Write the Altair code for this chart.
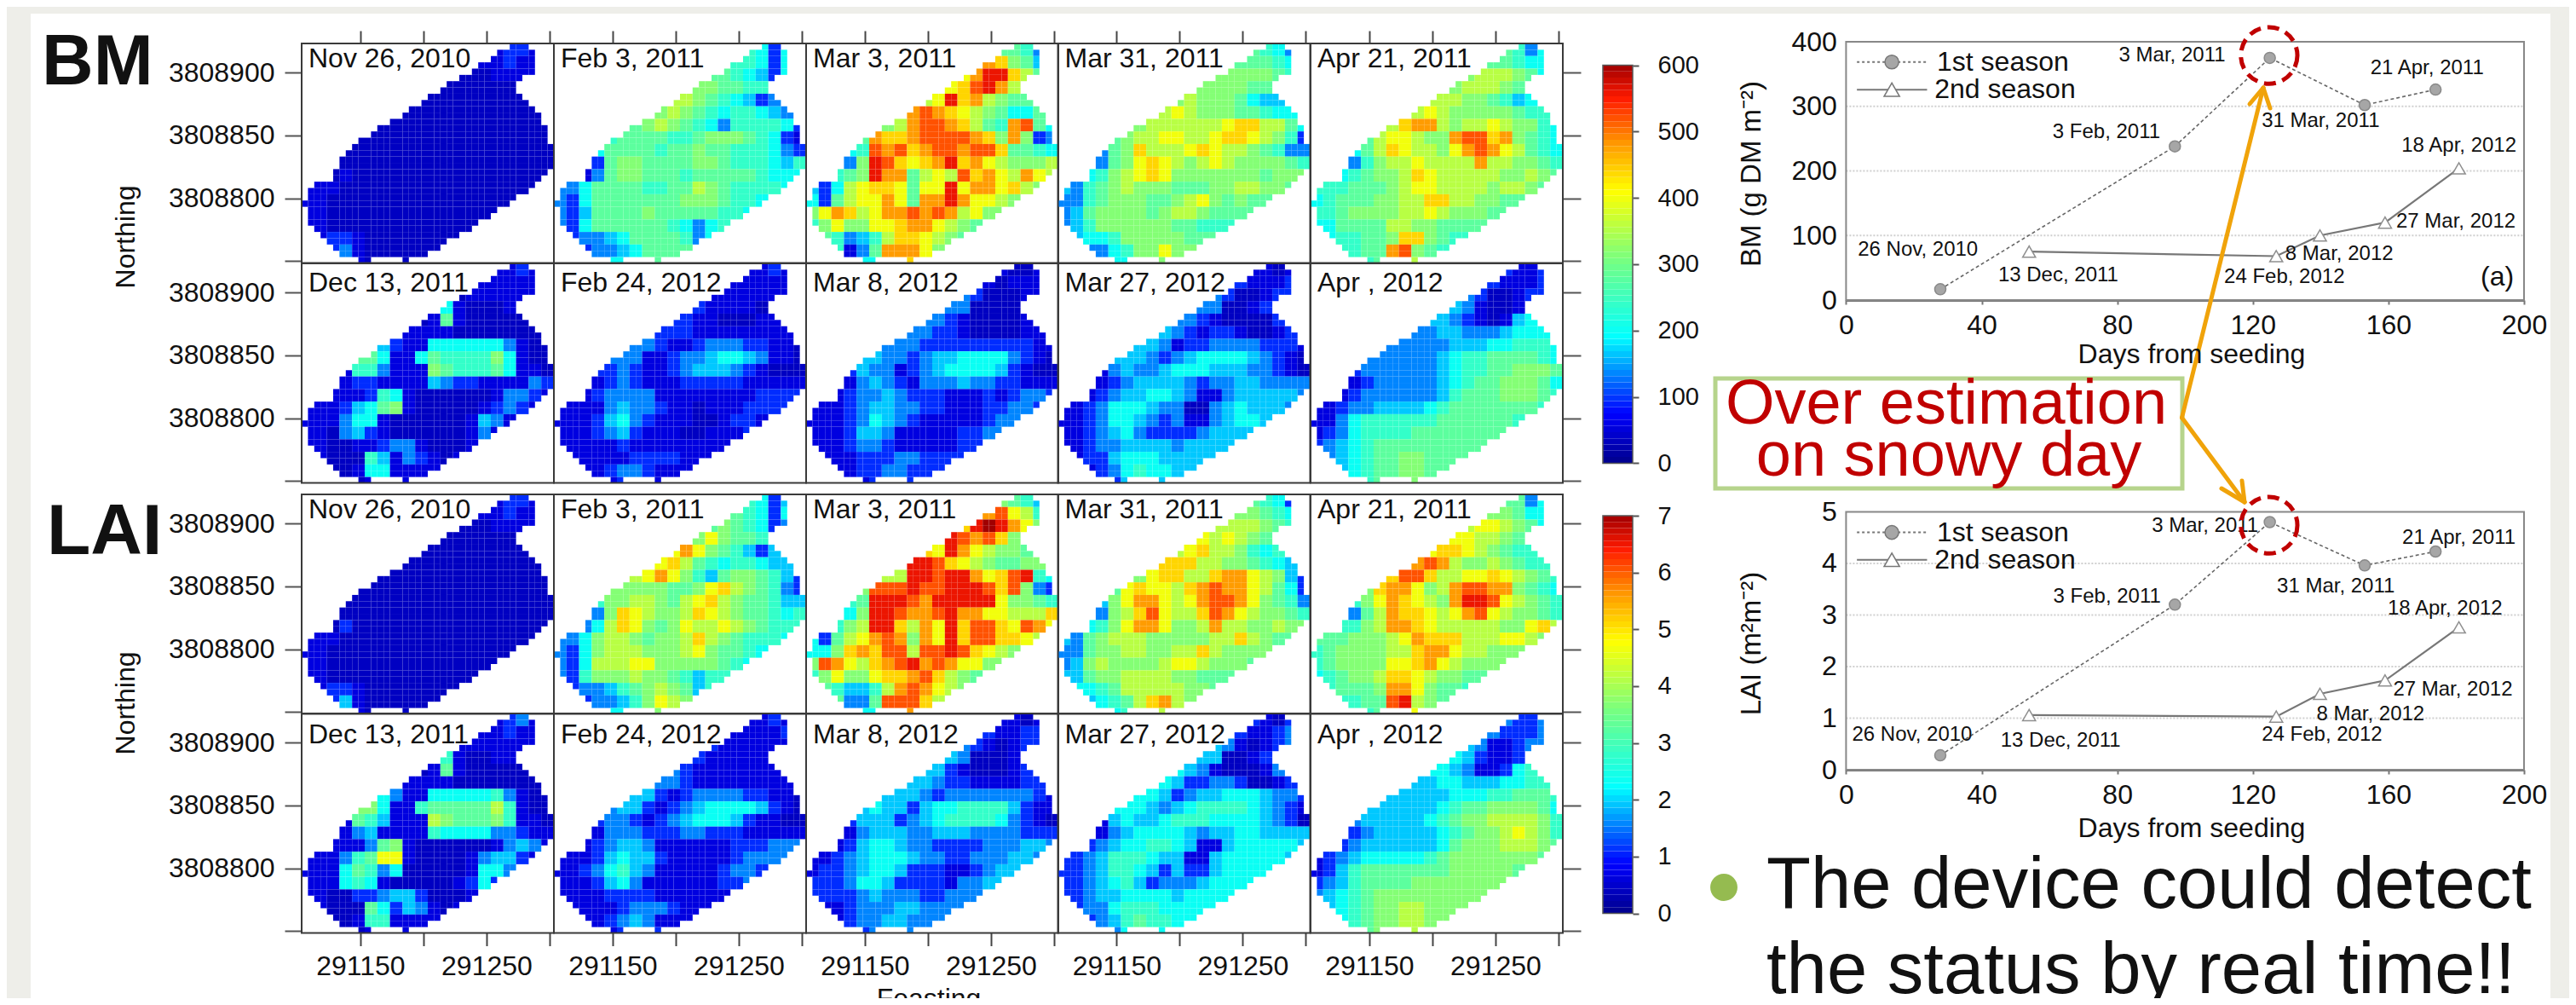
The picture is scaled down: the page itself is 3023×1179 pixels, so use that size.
import altair as alt
import pandas as pd

W, H = 3007, 1163
OFF = 8  # page margin

# ---------- map data: one hex code per 10 m block, colour ----------
COL_TITLES = [
    ["Nov 26, 2010", "Feb 3, 2011", "Mar 3, 2011", "Mar 31, 2011", "Apr 21, 2011"],
    ["Dec 13, 2011", "Feb 24, 2012", "Mar 8, 2012", "Mar 27, 2012", "Apr , 2012"],
]
# BM value (g DM m-2) that each code stands for
VALUE_BY_CODE = [35, 55, 95, 135, 165, 200, 240, 280, 315, 355, 400, 440, 480, 520, 560, 600]
# first/last 5 m column of every 5 m row of the field
FIELD_L = [33,31,30,28,27,25,23,22,20,19,17,16,14,12,11,9,8,7,6,6,5,5,2,1,1,0,1,1,1,2,3,4,5,6,9]
FIELD_R = [36,37,37,37,37,35,34,34,35,36,37,38,38,39,39,39,40,40,40,40,39,38,37,36,34,33,31,30,28,27,25,23,22,20,11]
BLOCK_START = [15,14,12,11,9,8,6,4,3,3,2,0,0,0,0,1,2,4]

A1 = ["1221","11211","0001111","0000000","000000000","00000000000","00000000000000","0000000000000000","00000000000000000","00000000000000000","010000000000000000","1110000000000000000","11000000000000000","1100000000000000","11000000000000","122100000000","231000000","10000"]
A2 = ["6525","66525","7765425","8877665","998765423","8987656 6543".replace(" ",""),"78987653666652","6777766788876521","57777677877666532","27887777887666546","137887776777776555","33577776677987666 65".replace(" ",""),"32577777778887665","3247777877777665","32577777765356","233457777635","233457777","55557"]
A3 = ["7763","CB874","ACEEB97","ABDEC97","9AEBC9877","CDCBA987557","89CDDCB976CD75","7CBBCDDDDCB8C823","56DCDBCDDCDDB7765","38EDBABCEBCA98889","678ECC79A9DBCA9CA9","4259ABBA7AAEACCAB98","5279AACA7CCECAA98","8ACB9ACCDCDC9A88","68A88AABCCA987","763469BBA987","6137CCCA8","5556B"]
A4 = ["7653","77765","8888876","8888776","898887544","9A988877655","8999999ABB99752","7899AA99ABBA9862","378B999ABA998763","378ABA989A9888876","56 89ABA888888878887".replace(" ",""),"4367898887778899887","33678887789A87877","3478888789987777","34688888877666","455688888777","33568 8A88".replace(" ",""),"55778"]
A5 = ["7635","77655","8999875","8999876","999887645","9A988888766","9BCC9899A98865","79AA988CDDBC8765","579BA998ACDCA9765","36899A9999C998876","56788 9BA99999889 87".replace(" ",""),"66677789AA99998 9987".replace(" ",""),"567778899BB998877","66788889 9A988877".replace(" ",""),"55777799887777","566778BB8766","6677CD876","67779"]
B1 = ["1121","11111","0111111","5100011","017100000","11110000000","42115555553100","7751157666685100","16631118766675110","12211114322111132","111265100000013321","1112457810000012321","11135510000001431","1103421000000131","11001123310001","100064132101","001551111","01111"]
B2 = ["1121","11111","1111111","2111100","221100011","22211111111","33211233322110","3331123345543110","22321123444321000","12321112222211111","123333111111112222","1111343321101112222","11124532111001221","1112342111001112","11111211111111","111112222111","112332111","12111"]
B3 = ["1001","10111","3200011","3300001","332100001","33221000011","33322222222211","4433234455553210","24331234555542100","13432133343322111","123343222111212332","1112344332211122332","11123543211111233","1112443111112233","11123321111122","111222332222","112233222","12222"]
B4 = ["1101","21112","3200122","3300122","332100002","43212210012","44312233332221","4443234555543210","13433455544433210","12344443233443333","123445543113444443","1123555433003454443","11235543231134554","1123453222234444","11233444434444","122455544444","123565544","24444"]
B5 = ["2112","21112","3200122","4310013","443210145","33443334555","33333444556665","3333334566777765","23333334566778887","12333334567788875","123333334677788876","1123344445677777776","11356666667777776","1235666677777777","23456777777777","345677887777","456778877","67778"]
C1 = ["1221","11211","0001111","0000000","000000000","00000000000","00000000000000","0000000000000000","00000000000000000","00000000000000000","020000000000000000","1110000000000000000","11000000000000000","1100000000000000","11000000000000","122100000000","241000000","10000"]
C2 = ["6524","76525","7876523","8A87765","ACA876424","AB976566544","9ACA8647887642","88888778AB987632","68899879AB9877644","38BA9889BA9877656","359BA878A99A987666","33589987889B9876665","32589998889A87765","325999AA88888765","32688898876466","233467898746","233468A98","55788"]
C3 = ["8764","CDA96","BEFECA8","EDCDB88","BAECA9887","EEDBA987788","99EEDEECABDE65","8DDDEDDEEEDBD832","67EEEDCEEEEEA8876","58EEDCCDECCAA999B","689EEB9CAEBDDBADCA","5279ACDC8CAEBDDBBA9","558BCBDD9DDEDBA98","8DCA9BCDECDCAA88","68A88ABBCDB987","764469CDCA98","7337DDDB9","5566C"]
C4 = ["7652","88765","9999876","A9A9876","9AB998656","BBB99887654","8ABB99BCCA9842","7ABAA9BCDCCA9752","48ACCA9ACDDCA8763","389BDA99BDCA98876","568ACCA889C99889887","43789998888899B9877","33788998899B98888","348988889AA98887","44788999988777","556799999887","45679BC98","56889"]
C5 = ["7735","88755","9AA9875","AA99876","ABBA98766","CDC98898766","BDDB99AABA9876","8BCCA89CDDCC8765","68ACBA98CEEDA9876","379CBBA9ACDA98876","6689CCBA9999988AB97","7778889ACBBB999AA98","67888899BCCA99888","678888AABCA98888","567889BBA98877","67778CCA8776","6677DE987","6788A"]
D1 = ["1231","11211","1111111","6100111","017100000","11110000000","53115555563100","8851167777796100","17641119877786110","13411116555533211","111378100000013431","111367AA10000134421","11157635000001553","1115651000001252","11002234420001","100075243101","001661111","01111"]
D2 = ["1121","11112","2111111","2111111","321111111","33211111111","44212333322110","3442123455554210","23321234555421100","13332223322211111","123443111111222333","1112454421111123333","11235643111112332","1112453111111223","11112222111111","111123332111","112343111","12112"]
D3 = ["1101","21122","3210122","4300012","442100012","44322111122","44432333333321","4544245566664211","24442345666653210","13444334443333222","124554332222333443","1123455543322333443","12234554222112344","2223554222213344","22223433322333","112333443333","123344333","23333"]
D4 = ["2102","21123","4310123","4400123","543100013","54223320012","55423445554332","5554345666654321","14544566655554320","13455554344554444","234556654114555554","2234666544114555554","22346654242245555","2234564233345555","22344555545555","233566655555","234676655","35555"]
D5 = ["3223","32223","4311233","5421124","554311256","44554445566","44444555667776","4444445677888875","34444456788999986","2344444567889A986","234444445788899987","1234555556788888887","12467777777888887","2346777788888888","34567888888888","456788998888","567889988","78889"]
BM_GRIDS = [[A1, A2, A3, A4, A5], [B1, B2, B3, B4, B5]]
LAI_GRIDS = [[C1, C2, C3, C4, C5], [D1, D2, D3, D4, D5]]

COLOR_STOPS = [0, 75, 190, 300, 410, 480, 550, 600]
COLOR_RANGE = ["#00008c", "#0000ff", "#00ffff", "#70ff88", "#ffff00", "#ff9c00", "#ff1a00", "#a00000"]
BM_TICKS = [0, 100, 200, 300, 400, 500, 600]
LAI_TICKS = [0, 1, 2, 3, 4, 5, 6, 7]

# ---------- line chart data ----------
DAYS_1 = [27.8, 97, 125, 153, 173.9]
DAYS_2 = [54, 126.9, 139.8, 159, 180.8]
BM_1 = [16.7, 238, 375, 302, 326]
BM_2 = [75, 68, 100, 120, 204]
LAI_1 = [0.28, 3.2, 4.8, 3.96, 4.23]
LAI_2 = [1.06, 1.03, 1.47, 1.73, 2.76]
DATE_LABELS = ["3 Mar, 2011","3 Feb, 2011","21 Apr, 2011","31 Mar, 2011","18 Apr, 2012","27 Mar, 2012","8 Mar, 2012","24 Feb, 2012","13 Dec, 2011","26 Nov, 2010"]
BM_LABEL_X = [96.2,76.8,171.4,140,180.8,179.9,145.5,129.3,62.6,21.2]
BM_LABEL_Y = [378.8,260,358.6,277.8,238.9,121.2,70.7,35.4,37.9,77.3]
LAI_LABEL_X = [105.9,77,180.8,144.5,176.7,179,154.7,140.4,63.3,19.5]
LAI_LABEL_Y = [4.73,3.35,4.5,3.56,3.13,1.55,1.08,0.67,0.56,0.68]

FONT = "Liberation Sans"
layers = []
one = pd.DataFrame({"a": [0]})


def deco_rect(x, x2, y, y2, color):
    return alt.Chart(one).mark_rect(color=color).encode(
        x=alt.value(x), x2=alt.value(x2), y=alt.value(y), y2=alt.value(y2))


def txt(s, x, y, size=32, align="left", color="#111111", bold=False, angle=0):
    return alt.Chart(one).mark_text(
        text=s, font=FONT, fontSize=size, align=align, baseline="alphabetic", color=color,
        fontWeight="bold" if bold else "normal", angle=angle
    ).encode(x=alt.value(x - OFF), y=alt.value(y - OFF))


def seg(x1, y1, x2, y2, color="#f0a30a", width=5):
    return alt.Chart(one).mark_rule(color=color, strokeWidth=width, strokeCap="round").encode(
        x=alt.value(x1 - OFF), x2=alt.value(x2 - OFF), y=alt.value(y1 - OFF), y2=alt.value(y2 - OFF))


# page furniture
layers += [deco_rect(0, 28, 0, H, "#eeeee9"), deco_rect(0, W, 0, 8, "#eeeee9"),
           deco_rect(2985, W, 0, H, "#eeeee9")]

# ---------- maps ----------
PANEL_L = [354, 650, 946, 1241.5, 1538]
PANEL_W = 296
ROW_T = [51, 309, 580, 837]
ROW_H = 257.5
E0 = 291103.4
N0 = 3808923.2
E_SPAN = 200
N_SPAN = ROW_H / 1.474
LAST_ROW_BLOCKS = [(9, 10), (16, 16)]

text_layers = []


def map_scales(col, row):
    l = PANEL_L[col] - OFF
    t = ROW_T[row] - OFF
    sx = alt.Scale(domain=[E0, E0 + E_SPAN], range=[l, l + PANEL_W], nice=False, zero=False)
    sy = alt.Scale(domain=[N0 - N_SPAN, N0], range=[t + ROW_H, t], nice=False, zero=False)
    return sx, sy


def cells(grid, factor):
    rows = []
    for j, (a, b) in enumerate(zip(FIELD_L, FIELD_R)):
        if j == 34:
            spans = LAST_ROW_BLOCKS
        else:
            spans = [(a, b - 1)]
        r = j // 2
        s = grid[r]
        for p, q in spans:
            for i in range(p, q + 1):
                idx = max(0, min(len(s) - 1, i // 2 - BLOCK_START[r]))
                rows.append(dict(e=E0 + 5 * i, e2=E0 + 5 * i + 5, n=N0 - 5 * j, n2=N0 - 5 * j - 5,
                                 v=VALUE_BY_CODE[int(s[idx], 16)] * factor))
    return pd.DataFrame(rows)


def add_maps(grids, row0, factor):
    cs = alt.Scale(domain=[v * factor for v in COLOR_STOPS], range=COLOR_RANGE, interpolate="rgb")
    for rr in range(2):
        row = row0 + rr
        for c in range(5):
            sx, sy = map_scales(c, row)
            df = cells(grids[rr][c], factor)
            layers.append(alt.Chart(df).mark_rect().encode(
                x=alt.X("e:Q", scale=sx, axis=None), x2="e2:Q",
                y=alt.Y("n:Q", scale=sy, axis=None), y2="n2:Q",
                color=alt.Color("v:Q", scale=cs, legend=None)))
            # frame + ticks
            xaxis = None
            if row == 0:
                xaxis = alt.Axis(orient="top", offset=-(ROW_T[0] - OFF), values=[291150, 291200, 291250, 291300],
                                 labels=False, tickSize=15, tickColor="#444444", tickWidth=2, domain=False,
                                 grid=False, title=None)
            if row == 3:
                xaxis = alt.Axis(orient="bottom", offset=(ROW_T[3] + ROW_H - OFF) - H,
                                 values=[291150, 291200, 291250, 291300], format="d",
                                 labelExpr="datum.value % 100 == 50 ? datum.label : ''",
                                 tickSize=15, tickColor="#444444", tickWidth=2, domain=False, grid=False,
                                 title=None, labelFont=FONT, labelFontSize=32, labelColor="#111111",
                                 labelPadding=9, labelFlush=False, labelOverlap=False, labelBound=False)
            yaxis = None
            yvals = [3808750, 3808800, 3808850, 3808900]
            if c == 0:
                yaxis = alt.Axis(orient="left", offset=-(PANEL_L[0] - OFF), values=yvals, format="d",
                                 labelExpr="datum.value == 3808750 ? '' : datum.label",
                                 tickSize=20, tickColor="#555555", tickWidth=2, domain=False, grid=False,
                                 title=None, labelFont=FONT, labelFontSize=32, labelColor="#111111",
                                 labelPadding=12, labelFlush=False, labelOverlap=False, labelBound=False)
            if c == 4:
                yaxis = alt.Axis(orient="right", offset=(PANEL_L[4] + PANEL_W - OFF) - W, values=yvals,
                                 labels=False, tickSize=21, tickColor="#555555", tickWidth=2, domain=False,
                                 grid=False, title=None)
            fr = pd.DataFrame({"e": [E0], "e2": [E0 + E_SPAN], "n": [N0 - N_SPAN], "n2": [N0]})
            layers.append(alt.Chart(fr).mark_rect(fillOpacity=0, stroke="#3a3a3a", strokeWidth=2).encode(
                x=alt.X("e:Q", scale=sx, axis=xaxis), x2="e2:Q",
                y=alt.Y("n:Q", scale=sy, axis=yaxis), y2="n2:Q"))


add_maps(BM_GRIDS, 0, 1)
add_maps(LAI_GRIDS, 2, 7 / 600)

title_dy = [28, 33, 28, 35]
for row in range(4):
    for c in range(5):
        text_layers.append(txt(COL_TITLES[row % 2][c], PANEL_L[c] + 8, ROW_T[row] + title_dy[row], 32))


# ---------- colour bars ----------
def colorbar(ticks, top, bottom, domain_scale):
    vmax = ticks[-1]
    bands = [i * vmax / 64 for i in range(64)]
    df = pd.DataFrame({"v": bands, "v2": [b + vmax / 64 for b in bands], "m": [b + vmax / 128 for b in bands]})
    sy = alt.Scale(domain=[0, vmax], range=[bottom - OFF, top - OFF], nice=False, zero=False)
    cs = alt.Scale(domain=[v * domain_scale for v in COLOR_STOPS], range=COLOR_RANGE, interpolate="rgb")
    ax = alt.Axis(orient="right", offset=(1916 - OFF) - W, values=ticks, tickSize=7, tickColor="#555555",
                  tickWidth=2, domain=False, grid=False, title=None, labelFont=FONT, labelFontSize=29,
                  labelColor="#111111", labelPadding=22, labelFlush=False, labelOverlap=False,
                  labelBound=False, format="d")
    layers.append(alt.Chart(df).mark_rect().encode(
        x=alt.value(1881 - OFF), x2=alt.value(1916 - OFF),
        y=alt.Y("v:Q", scale=sy, axis=ax), y2="v2:Q",
        color=alt.Color("m:Q", scale=cs, legend=None)))
    fr = pd.DataFrame({"v": [0], "v2": [vmax]})
    layers.append(alt.Chart(fr).mark_rect(fillOpacity=0, stroke="#555555", strokeWidth=1.5).encode(
        x=alt.value(1881 - OFF), x2=alt.value(1916 - OFF),
        y=alt.Y("v:Q", scale=sy, axis=None), y2="v2:Q"))


colorbar(BM_TICKS, 76.5, 543.4, 1)
colorbar(LAI_TICKS, 605, 1071.5, 7 / 600)


# ---------- line charts ----------
def line_chart(y1, y2, ymax, yticks, top, bottom, lab_x, lab_y, leg_y, ring_y):
    sx = alt.Scale(domain=[0, 200], range=[2166.4 - OFF, 2962 - OFF], nice=False, zero=False)
    sy = alt.Scale(domain=[0, ymax], range=[bottom - OFF, top - OFF], nice=False, zero=False)
    X = lambda f="x", axis=None: alt.X(f"{f}:Q", scale=sx, axis=axis)
    Y = lambda f="y", axis=None: alt.Y(f"{f}:Q", scale=sy, axis=axis)
    xax = alt.Axis(orient="bottom", offset=(bottom - OFF) - H, values=[0, 40, 80, 120, 160, 200], tickSize=5,
                   tickColor="#777777", tickWidth=2, domain=True, domainColor="#777777", domainWidth=3,
                   grid=False, title=None, labelFont=FONT, labelFontSize=32, labelColor="#111111",
                   labelPadding=9, labelFlush=False, labelOverlap=False, labelBound=False)
    yax = alt.Axis(orient="left", offset=-(2166.4 - OFF), values=yticks, ticks=False, domain=False,
                   grid=False, title=None, labelFont=FONT, labelFontSize=32, labelColor="#111111",
                   labelPadding=11, labelFlush=False, labelOverlap=False, labelBound=False)
    # grid
    inner = yticks[1:-1]
    layers.append(alt.Chart(pd.DataFrame({"y": inner, "x": [0] * len(inner), "x2": [200] * len(inner)}))
                  .mark_rule(color="#cfcfcf", strokeWidth=2, strokeDash=[2, 2]).encode(
        x=X(), x2="x2:Q", y=Y()))
    # frame and axes
    fr = pd.DataFrame({"x": [0], "x2": [200], "y": [0], "y2": [ymax]})
    layers.append(alt.Chart(fr).mark_rect(fillOpacity=0, stroke="#888888", strokeWidth=2).encode(
        x=X(axis=xax), x2="x2:Q", y=Y(axis=yax), y2="y2:Q"))
    # series
    d1 = pd.DataFrame({"x": DAYS_1, "y": y1})
    d2 = pd.DataFrame({"x": DAYS_2, "y": y2})
    layers.append(alt.Chart(d1).mark_line(color="#666666", strokeWidth=1.6, strokeDash=[4, 3]).encode(x=X(), y=Y()))
    layers.append(alt.Chart(d2).mark_line(color="#777777", strokeWidth=2.2).encode(x=X(), y=Y()))
    layers.append(alt.Chart(d1).mark_point(shape="circle", filled=True, fill="#a6a6a6", stroke="#8a8a8a",
                                           strokeWidth=1.5, size=170, opacity=1).encode(x=X(), y=Y()))
    layers.append(alt.Chart(d2).mark_point(shape="triangle-up", filled=True, fill="#ffffff", stroke="#8f8f8f",
                                           strokeWidth=1.5, size=230, opacity=1).encode(x=X(), y=Y()))
    # date labels
    labs = pd.DataFrame({"x": lab_x, "y": lab_y, "t": DATE_LABELS})
    layers.append(alt.Chart(labs).mark_text(font=FONT, fontSize=24, color="#111111", align="center",
                                            baseline="middle").encode(x=X(), y=Y(), text="t:N"))
    # key
    for k, (yv, dash, col) in enumerate([(leg_y[0], [3, 3], "#777777"), (leg_y[1], [1, 0], "#777777")]):
        seg_df = pd.DataFrame({"x": [3.2, 23.9], "y": [yv, yv]})
        layers.append(alt.Chart(seg_df).mark_line(color=col, strokeWidth=2, strokeDash=dash).encode(x=X(), y=Y()))
        pt = pd.DataFrame({"x": [13.5], "y": [yv]})
        if k == 0:
            m = alt.Chart(pt).mark_point(shape="circle", filled=True, fill="#a6a6a6", stroke="#777777",
                                         strokeWidth=1.5, size=260, opacity=1)
        else:
            m = alt.Chart(pt).mark_point(shape="triangle-up", filled=True, fill="#ffffff", stroke="#777777",
                                         strokeWidth=1.5, size=330, opacity=1)
        layers.append(m.encode(x=X(), y=Y()))
        tx = pd.DataFrame({"x": [26.8 - k * 0.7], "y": [yv], "t": ["1st season" if k == 0 else "2nd season"]})
        layers.append(alt.Chart(tx).mark_text(font=FONT, fontSize=32, color="#111111", align="left",
                                              baseline="middle").encode(x=X(), y=Y(), text="t:N"))
    # highlight ring
    ring = pd.DataFrame({"x": [124.8], "y": [ring_y]})
    layers.append(alt.Chart(ring).mark_point(shape="circle", filled=False, stroke="#c00000", strokeWidth=5,
                                             strokeDash=[14, 8], size=4400, opacity=1).encode(x=X(), y=Y()))
    return X, Y


X, Y = line_chart(BM_1, BM_2, 400, [0, 100, 200, 300, 400], 49, 352, BM_LABEL_X, BM_LABEL_Y, [368.7, 325.8], 378.8)
layers.append(alt.Chart(pd.DataFrame({"x": [192.1], "y": [35.4], "t": ["(a)"]})).mark_text(
    font=FONT, fontSize=32, color="#111111", align="center", baseline="middle").encode(x=X(), y=Y(), text="t:N"))
line_chart(LAI_1, LAI_2, 5, [0, 1, 2, 3, 4, 5], 600.4, 903, LAI_LABEL_X, LAI_LABEL_Y, [4.6, 4.07], 4.74)

# ---------- call-out box ----------
layers.append(alt.Chart(one).mark_rect(fill="#ffffff", stroke="#b6d48c", strokeWidth=5).encode(
    x=alt.value(2013 - OFF), x2=alt.value(2561 - OFF), y=alt.value(444 - OFF), y2=alt.value(573 - OFF)))
layers += [
    seg(2560.5, 490, 2656, 103), seg(2656, 103, 2640, 122), seg(2656, 103, 2664, 127),
    seg(2560.5, 490, 2634, 589), seg(2634, 589, 2631, 564), seg(2634, 589, 2607, 573),
]

# ---------- free text ----------
text_layers += [
    txt("BM", 49, 99, 84, bold=True), txt("LAI", 55, 650, 84, bold=True),
    txt("Northing", 158, 278, 32, align="center", angle=270),
    txt("Northing", 158, 825, 32, align="center", angle=270),
    txt("Feasting", 1090, 1182, 32, align="center"),
    txt("BM (g DM m\u207b\u00b2)", 2066, 204, 33, align="center", angle=270),
    txt("LAI (m\u00b2m\u207b\u00b2)", 2066, 755, 33, align="center", angle=270),
    txt("Days from seeding", 2572, 426, 32, align="center"),
    txt("Days from seeding", 2572, 982, 32, align="center"),
    txt("Over estimation", 2284, 497, 74, align="center", color="#c00000"),
    txt("on snowy day", 2287, 558, 74, align="center", color="#c00000"),
    txt("The device could detect", 2073, 1065, 85),
    txt("the status by real time!!", 2073, 1165, 85),
    alt.Chart(one).mark_point(shape="circle", filled=True, fill="#95bb50", size=1018, opacity=1).encode(
        x=alt.value(2023 - OFF), y=alt.value(1041 - OFF)),
]
layers += text_layers

chart = alt.layer(*layers).resolve_scale(x="independent", y="independent", color="independent").properties(
    width=W, height=H, padding=0, autosize=alt.AutoSizeParams(type="none"), background="#ffffff"
).configure_view(stroke=None)

chart.save("out.html", embed_options={"renderer": "svg", "actions": False})
